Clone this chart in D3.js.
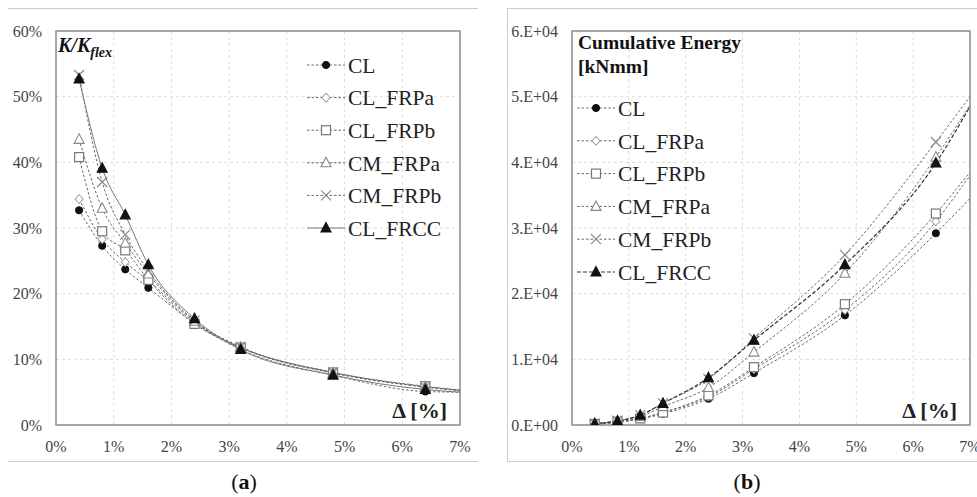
<!DOCTYPE html>
<html>
<head>
<meta charset="utf-8">
<script src="https://cdn.jsdelivr.net/npm/d3@7"></script>
<style>
  body { margin: 0; background: #fff; }
  svg, svg text { font-family: "Times New Roman", "Liberation Serif", "DejaVu Serif", serif; }
  svg { display: block; }
</style>
</head>
<body>
<svg id="chart" width="977" height="497"></svg>
<script>
// drift levels (%) where markers sit
var driftLevels = [0.4, 0.8, 1.2, 1.6, 2.4, 3.2, 4.8, 6.4]
var seriesNames = ['CL', 'CL_FRPa', 'CL_FRPb', 'CM_FRPa', 'CM_FRPb', 'CL_FRCC']

// (a) K/Kflex in %
var stiffCL = [32.7, 27.3, 23.7, 20.9, 15.5, 11.5, 7.6, 5.1]
var stiffCLFRPa = [34.4, 28.3, 24.8, 22.0, 15.6, 11.8, 8.0, 5.8]
var stiffCLFRPb = [40.8, 29.5, 26.6, 22.1, 15.4, 11.8, 8.0, 5.9]
var stiffCMFRPa = [43.5, 33.0, 27.7, 23.0, 15.8, 11.8, 7.9, 5.8]
var stiffCMFRPb = [53.3, 37.0, 29.0, 23.5, 15.9, 11.9, 8.0, 5.8]
var stiffCLFRCC = [52.7, 39.1, 32.0, 24.4, 16.2, 11.5, 7.6, 5.4]
var stiffAt7 = [5.0, 5.3, 5.3, 5.3, 5.2, 5.0]

// (b) cumulative energy in kNmm
var energyCL = [100, 400, 900, 1700, 4000, 7900, 16700, 29200]
var energyCLFRPa = [150, 450, 1000, 1900, 4300, 8500, 17500, 31000]
var energyCLFRPb = [150, 500, 1000, 1900, 4500, 8800, 18400, 32200]
var energyCMFRPa = [200, 600, 1300, 2800, 5700, 11100, 23100, 40800]
var energyCMFRPb = [200, 650, 1500, 3300, 7000, 13200, 25900, 43100]
var energyCLFRCC = [200, 600, 1500, 3300, 7200, 12900, 24400, 39900]
var energyAt7 = [34500, 38000, 38500, 48700, 50000, 48500]

var xTicks = [0, 1, 2, 3, 4, 5, 6, 7]
var stiffTicks = [0, 10, 20, 30, 40, 50, 60]
var energyTicks = [0, 10000, 20000, 30000, 40000, 50000, 60000]
var energyTickLabels = ['0.E+00', '1.E+04', '2.E+04', '3.E+04', '4.E+04', '5.E+04', '6.E+04']

var stiffSeries = [stiffCL, stiffCLFRPa, stiffCLFRPb, stiffCMFRPa, stiffCMFRPb, stiffCLFRCC]
var energySeries = [energyCL, energyCLFRPa, energyCLFRPb, energyCMFRPa, energyCMFRPb, energyCLFRCC]

var markerTypes = ['circle', 'diamond', 'square', 'triangle', 'cross', 'triangle']
var markerFill = ['#111', '#fff', '#fff', '#fff', 'none', '#111']
var markerStroke = ['#111', '#888', '#777', '#888', '#888', '#111']

var FONT = '"Times New Roman", "Liberation Serif", "DejaVu Serif", serif'
var svg = d3.select('#chart').attr('font-family', FONT)

// outer frames
svg.append('line').attr('x1', 8).attr('x2', 478).attr('y1', 8.5).attr('y2', 8.5)
  .attr('stroke', '#ccc')
svg.append('line').attr('x1', 8).attr('x2', 478).attr('y1', 461.5).attr('y2', 461.5)
  .attr('stroke', '#ccc')
svg.append('rect').attr('x', 507.5).attr('y', 8.5).attr('width', 480).attr('height', 453)
  .attr('fill', 'none').attr('stroke', '#ccc')

function drawMarker (g, type, x, y, fill, stroke) {
  if (type === 'circle') {
    g.append('circle').attr('cx', x).attr('cy', y).attr('r', 3.6)
      .attr('fill', fill).attr('stroke', stroke)
  } else if (type === 'square') {
    g.append('rect').attr('x', x - 4.5).attr('y', y - 4.5).attr('width', 9).attr('height', 9)
      .attr('fill', fill).attr('stroke', stroke).attr('stroke-width', 1.2)
  } else if (type === 'diamond') {
    g.append('path').attr('d', 'M' + x + ',' + (y - 4.5) + 'L' + (x + 4) + ',' + y + 'L' + x + ',' + (y + 4.5) + 'L' + (x - 4) + ',' + y + 'Z')
      .attr('fill', fill).attr('stroke', stroke)
  } else if (type === 'triangle') {
    g.append('path').attr('d', 'M' + x + ',' + (y - 5.5) + 'L' + (x + 5) + ',' + (y + 4) + 'L' + (x - 5) + ',' + (y + 4) + 'Z')
      .attr('fill', fill).attr('stroke', stroke).attr('stroke-width', 1.1)
  } else if (type === 'cross') {
    g.append('path').attr('d', 'M' + (x - 5) + ',' + (y - 5) + 'L' + (x + 5) + ',' + (y + 5) + 'M' + (x - 5) + ',' + (y + 5) + 'L' + (x + 5) + ',' + (y - 5))
      .attr('fill', 'none').attr('stroke', stroke).attr('stroke-width', 1.2)
  }
}

function drawPanel (opt) {
  var x = d3.scaleLinear().domain([0, 7]).range([opt.left, opt.right])
  var y = d3.scaleLinear().domain(opt.yDomain).range([opt.bottom, opt.top])
  var g = svg.append('g')

  // grid
  g.selectAll('.vgrid').data(xTicks.slice(1, -1)).enter().append('line')
    .attr('x1', function (d) { return x(d) }).attr('x2', function (d) { return x(d) })
    .attr('y1', opt.top).attr('y2', opt.bottom)
    .attr('stroke', '#ddd').attr('stroke-dasharray', '3,3')
  g.selectAll('.hgrid').data(opt.yTicks.slice(1, -1)).enter().append('line')
    .attr('x1', opt.left).attr('x2', opt.right)
    .attr('y1', function (d) { return y(d) }).attr('y2', function (d) { return y(d) })
    .attr('stroke', '#ddd').attr('stroke-dasharray', '3,3')

  g.append('rect').attr('x', opt.left).attr('y', opt.top)
    .attr('width', opt.right - opt.left).attr('height', opt.bottom - opt.top)
    .attr('fill', 'none').attr('stroke', '#8a8a8a').attr('stroke-width', 1.5)

  // tick labels
  g.selectAll('.xt').data(xTicks).enter().append('text')
    .attr('x', function (d) { return x(d) }).attr('y', 452)
    .attr('text-anchor', 'middle').attr('font-size', 16).attr('fill', '#444')
    .text(function (d) { return d + '%' })
  g.selectAll('.yt').data(opt.yTicks).enter().append('text')
    .attr('x', opt.left - 14).attr('y', function (d) { return y(d) })
    .attr('dy', '0.35em').attr('text-anchor', 'end').attr('font-size', 16).attr('fill', '#444')
    .text(function (d, i) { return opt.yTickLabels[i] })

  g.append('text').attr('x', opt.right - 13).attr('y', 418)
    .attr('text-anchor', 'end').attr('font-size', 22).attr('font-weight', 'bold').attr('fill', '#222')
    .text('Δ [%]')

  var clipId = 'clip' + opt.key
  svg.append('defs').append('clipPath').attr('id', clipId)
    .append('rect').attr('x', opt.left).attr('y', opt.top)
    .attr('width', opt.right - opt.left).attr('height', opt.bottom - opt.top)

  var line = d3.line()
    .x(function (d) { return x(d[0]) })
    .y(function (d) { return y(d[1]) })
    .curve(d3.curveMonotoneX)

  var lines = g.append('g').attr('clip-path', 'url(#' + clipId + ')')
  opt.series.forEach(function (vals, s) {
    var pts = driftLevels.map(function (d, i) { return [d, vals[i]] })
    pts.push([7, opt.endValues[s]])
    var st = opt.lineStyles[s]
    lines.append('path').attr('d', line(pts))
      .attr('fill', 'none').attr('stroke', st.stroke).attr('stroke-width', st.width)
      .attr('stroke-dasharray', st.dash)
  })
  // markers, drawn in series order
  opt.series.forEach(function (vals, s) {
    var mg = lines.append('g')
    vals.forEach(function (v, i) {
      drawMarker(mg, markerTypes[s], x(driftLevels[i]), y(v), markerFill[s], markerStroke[s])
    })
  })

  // legend
  var lg = g.append('g')
  seriesNames.forEach(function (name, s) {
    var ly = opt.legendY + s * opt.legendStep
    var st = opt.lineStyles[s]
    lg.append('line').attr('x1', opt.legendX).attr('x2', opt.legendX + 38)
      .attr('y1', ly).attr('y2', ly)
      .attr('stroke', st.stroke).attr('stroke-width', st.width).attr('stroke-dasharray', st.legendDash || st.dash)
    drawMarker(lg, markerTypes[s], opt.legendX + 19, ly, markerFill[s], markerStroke[s])
    lg.append('text').attr('x', opt.legendX + 41).attr('y', ly).attr('dy', '0.36em')
      .attr('font-size', 21.5).attr('fill', '#222').text(name)
  })

  // caption below
  var cap = svg.append('text').attr('x', opt.captionX).attr('y', 489)
    .attr('text-anchor', 'middle').attr('font-size', 22).attr('fill', '#111')
  cap.append('tspan').text('(')
  cap.append('tspan').attr('font-weight', 'bold').text(opt.caption)
  cap.append('tspan').text(')')
  return g
}

var dashStyle = { stroke: '#666', width: 1, dash: '2.5,2' }

var gA = drawPanel({
  key: 'a',
  left: 56, right: 460, top: 31, bottom: 425,
  yDomain: [0, 60], yTicks: stiffTicks,
  yTickLabels: stiffTicks.map(function (d) { return d + '%' }),
  series: stiffSeries, endValues: stiffAt7,
  lineStyles: [dashStyle, dashStyle, dashStyle, dashStyle, dashStyle,
    { stroke: '#777', width: 1, dash: null, legendDash: null }],
  legendX: 307, legendY: 65, legendStep: 32.6,
  caption: 'a', captionX: 244
})
var kt = gA.append('text').attr('x', 58).attr('y', 52)
  .attr('font-size', 20).attr('font-weight', 'bold').attr('font-style', 'italic').attr('fill', '#111')
kt.append('tspan').text('K/K')
kt.append('tspan').attr('font-size', 14).attr('dy', 5).text('flex')

var gB = drawPanel({
  key: 'b',
  left: 572, right: 970, top: 31, bottom: 425,
  yDomain: [0, 60000], yTicks: energyTicks, yTickLabels: energyTickLabels,
  series: energySeries, endValues: energyAt7,
  lineStyles: [dashStyle, dashStyle, dashStyle, dashStyle, dashStyle,
    { stroke: '#333', width: 1.2, dash: '4,2' }],
  legendX: 577, legendY: 108, legendStep: 32.8,
  caption: 'b', captionX: 747
})
gB.append('text').attr('x', 578).attr('y', 49)
  .attr('font-size', 19.5).attr('font-weight', 'bold').attr('fill', '#111').text('Cumulative Energy')
gB.append('text').attr('x', 578).attr('y', 73)
  .attr('font-size', 19.5).attr('font-weight', 'bold').attr('fill', '#111').text('[kNmm]')
</script>
</body>
</html>
